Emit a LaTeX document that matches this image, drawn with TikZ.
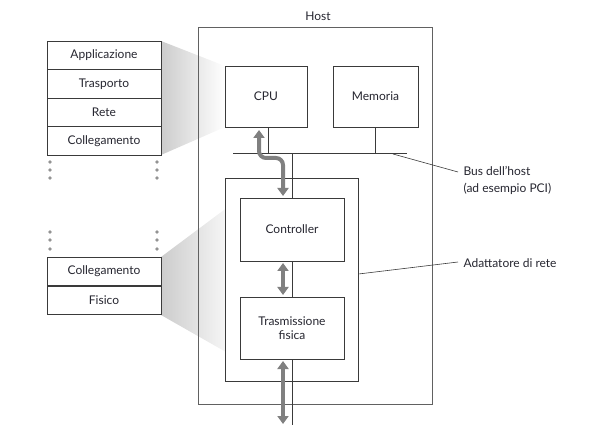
\documentclass[tikz,border=0pt]{standalone}
\usepackage{fontspec}
\setmainfont{Lato}
\usetikzlibrary{arrows.meta}
\definecolor{ln}{HTML}{3A3A3A}
\definecolor{txt}{HTML}{262630}
\definecolor{arr}{HTML}{808080}
\begin{document}
\begin{tikzpicture}[x=1pt,y=-1pt,
  font=\fontsize{12}{15}\selectfont, text=txt,
  box/.style={draw=ln, line width=0.8pt, fill=white, inner sep=0pt, align=center},
  layer/.style={box, minimum width=114pt, minimum height=28.6pt},
  wire/.style={draw=ln, line width=0.8pt},
  dat/.style={draw=arr, line width=4pt, line cap=butt,
    {Triangle[width=11pt,length=8pt]}-{Triangle[width=11pt,length=8pt]}},
  dotc/.style={fill=gray!85}]
\useasboundingbox (0,0) rectangle (591,443);
% shadings
\shade[left color=gray!40, right color=white] (161,41) -- (225,66) -- (225,127) -- (161,155) -- cycle;
\shade[left color=gray!40, right color=white] (161,257) -- (240,198) -- (240,360) -- (161,315) -- cycle;
% host
\node[draw=ln!80, line width=0.8pt, minimum width=234pt, minimum height=377pt, inner sep=0pt] (host) at (315,215.5) {};
\node (hostlbl) at (318,16) {Host};
% protocol stacks
\node[layer] (app) at (104,55.5) {Applicazione};
\node[layer] (tra) at (104,84) {Trasporto};
\node[layer] (ret) at (104,112.5) {Rete};
\node[layer] (col) at (104,141) {Collegamento};
\node[layer] (col2) at (104,271.5) {Collegamento};
\node[layer] (fis) at (104,300.5) {Fisico};
\foreach \yy in {162,170,178,232,240,249}{
  \fill[dotc] (50,\yy) circle (1.9pt);
  \fill[dotc] (157,\yy) circle (1.9pt);
}
% host components
\node[box, minimum width=82pt, minimum height=61pt] (cpu) at (266,96.5) {CPU};
\node[box, minimum width=85pt, minimum height=61pt] (mem) at (375.5,96.5) {Memoria};
\node[box, minimum width=133pt, minimum height=203pt] (nic) at (291.5,279.5) {};
\node[box, minimum width=104pt, minimum height=63pt] (ctl) at (292,229.5) {Controller};
\node[box, minimum width=104pt, minimum height=62pt] (phy) at (292,328) {Trasmissione\\[-1pt]fisica};
% bus
\coordinate (busL) at (233,153);
\coordinate (busR) at (407,153);
\coordinate (busT) at (393,154);
\coordinate (nicT) at (358.5,274);
\coordinate (wireEnd) at (292,425);
\draw[wire] (busL) -- (busR);
\draw[wire] (cpu.south -| 268,0) -- (268,153);
\draw[wire] (mem.south) -- (mem.south |- busL);
\draw[wire] (ctl.north) -- (ctl.north |- busL);
\draw[wire] (ctl.south) -- (phy.north);
\draw[wire] (phy.south) -- (wireEnd);
% data arrows
\draw[dat, rounded corners=7pt] (259,130) -- (259,158) -- (283,158) -- (283,196);
\draw[dat] (283,263) -- (283,295);
\draw[dat] (283,361) -- (283,424);
% labels
\node[anchor=west, align=left, font=\fontsize{12}{17}\selectfont] (buslbl) at (460,180.5) {Bus dell'host\\(ad esempio PCI)};
\node[anchor=west] (niclbl) at (460,263) {Adattatore di rete};
\draw[wire, line width=0.6pt] (busT) -- (458,172);
\draw[wire, line width=0.6pt] (nicT) -- (458,262);
\end{tikzpicture}
\end{document}
